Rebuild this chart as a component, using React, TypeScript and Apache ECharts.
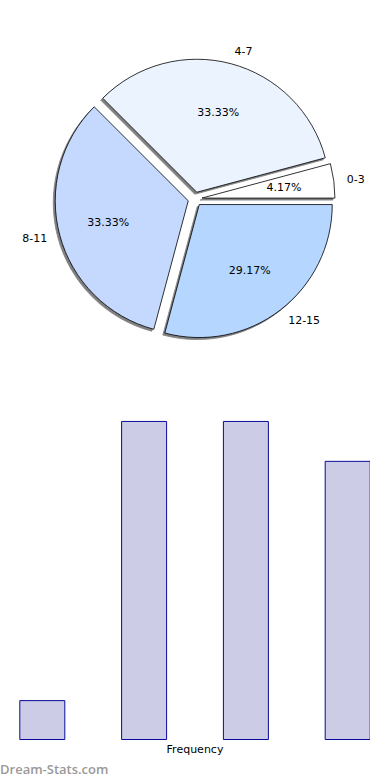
import React, { useEffect, useRef } from "react";
import * as echarts from "echarts";

const categories = ["0-3", "4-7", "8-11", "12-15"];
const frequencies = [1, 8, 8, 7];
const sliceColors = ["#ffffff", "#ebf3ff", "#c5d9ff", "#b5d6ff"];
const barPositions = [0, 1, 2, 3];

export default function App() {
  const ref = useRef<HTMLDivElement>(null);
  useEffect(() => {
    const chart = echarts.init(ref.current!, null, { renderer: "svg" });
    const R = 133;
    const center = [195, 199];
    const pieData = categories.map((c, i) => ({
      name: c,
      value: frequencies[i],
      selected: true,
      itemStyle: { color: sliceColors[i] },
    }));
    const ringData = categories.map((c, i) => ({
      name: c,
      value: frequencies[i],
      selected: true,
    }));
    const font = "DejaVu Sans";
    chart.setOption({
      animation: false,
      textStyle: { fontFamily: font },
      grid: { left: 0, right: 0, top: 405, bottom: 40 },
      xAxis: {
        type: "value",
        min: -0.4156,
        max: 3.4155,
        axisLine: { show: false },
        axisTick: { show: false },
        axisLabel: { show: false },
        splitLine: { show: false },
        name: "Frequency",
        nameLocation: "middle",
        nameGap: 4,
        nameTextStyle: { fontFamily: font, fontSize: 11, color: "#000" },
      },
      yAxis: { type: "value", min: 0, max: 8.4, show: false },
      series: [
        {
          type: "bar",
          data: barPositions.map((p, i) => [p, frequencies[i]]),
          barWidth: 46,
          silent: true,
          itemStyle: { color: "#ccccE6", borderColor: "#0a0a9a", borderWidth: 1 },
        },
        {
          type: "pie",
          center,
          radius: R,
          startAngle: 0,
          clockwise: false,
          selectedMode: "multiple",
          selectedOffset: 7,
          avoidLabelOverlap: false,
          silent: true,
          data: pieData,
          itemStyle: {
            borderColor: "#000",
            borderWidth: 0.8,
            shadowColor: "rgba(0,0,0,0.5)",
            shadowOffsetX: -2,
            shadowOffsetY: 2,
            shadowBlur: 1,
          },
          select: { itemStyle: { borderColor: "#000", borderWidth: 0.8 } },
          label: {
            position: "outside",
            formatter: "{b}",
            color: "#000",
            fontFamily: font,
            fontSize: 11,
            distanceToLabelLine: 0,
          },
          labelLine: { show: false, length: 13, length2: 0 },
          emphasis: { disabled: true },
        },
        {
          type: "pie",
          center,
          radius: [0.2 * R, R],
          startAngle: 0,
          clockwise: false,
          selectedMode: "multiple",
          selectedOffset: 7,
          avoidLabelOverlap: false,
          silent: true,
          data: ringData,
          itemStyle: { color: "rgba(0,0,0,0)", borderWidth: 0 },
          select: { itemStyle: { color: "rgba(0,0,0,0)", borderWidth: 0 } },
          label: {
            position: "inside",
            formatter: "{d}%",
            color: "#000",
            fontFamily: font,
            fontSize: 11,
          },
          labelLine: { show: false },
          emphasis: { disabled: true },
        },
      ],
      graphic: [
        {
          type: "text",
          left: 0,
          top: 762,
          style: { text: "Dream-Stats.com", fill: "#999", font: '600 13px "Open Sans"' },
        },
      ],
    });
    return () => chart.dispose();
  }, []);
  return (
    <div
      style={{
        position: "fixed",
        left: 0,
        top: 0,
        width: 370,
        height: 780,
        overflow: "hidden",
        background: "#fff",
      }}
    >
      <div ref={ref} style={{ width: 390, height: 780 }} />
    </div>
  );
}
